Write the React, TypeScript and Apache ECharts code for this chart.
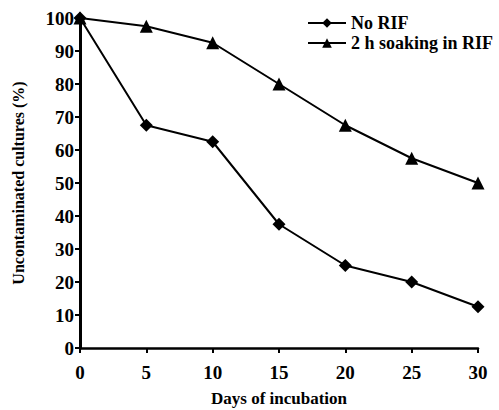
import React, { useEffect, useRef } from "react";
import * as echarts from "echarts";

const days = [0, 5, 10, 15, 20, 25, 30];
const noRif = [100, 67.5, 62.5, 37.5, 25, 20, 12.5];
const soakRif = [100, 97.5, 92.5, 80, 67.5, 57.5, 50];
const seriesNames = ["No RIF", "2 h soaking in RIF"];

const FONT = "'Liberation Serif', 'Times New Roman', Times, serif";

export default function App() {
  const ref = useRef<HTMLDivElement>(null);
  useEffect(() => {
    document.body.style.margin = "0";
    if (!ref.current) return;
    const chart = echarts.init(ref.current, undefined, { renderer: "svg" });
    chart.setOption({
      animation: false,
      backgroundColor: "#ffffff",
      grid: { left: 80, right: 21, top: 18, bottom: 62, containLabel: false, outerBoundsMode: "none" },
      legend: {
        orient: "vertical",
        left: 302,
        top: 9,
        itemWidth: 38,
        itemHeight: 12,
        itemGap: 2,
        data: seriesNames,
        textStyle: { fontFamily: FONT, fontSize: 18, color: "#000", fontWeight: "bold" },
      },
      xAxis: {
        type: "value",
        min: 0,
        max: 30,
        interval: 5,
        name: "Days of incubation",
        nameLocation: "middle",
        nameGap: 42,
        nameTextStyle: { fontFamily: FONT, fontSize: 17, color: "#000", fontWeight: "bold" },
        axisLine: { lineStyle: { color: "#000", width: 2.5 } },
        axisTick: { show: true, length: 5, lineStyle: { color: "#000", width: 2 } },
        axisLabel: { fontFamily: FONT, fontSize: 19, color: "#000", fontWeight: "bold", margin: 15 },
        splitLine: { show: false },
      },
      yAxis: {
        type: "value",
        min: 0,
        max: 100,
        interval: 10,
        name: "Uncontaminated cultures (%)",
        nameLocation: "middle",
        nameGap: 54,
        nameTextStyle: { fontFamily: FONT, fontSize: 16, color: "#000", fontWeight: "bold" },
        axisLine: { show: true, lineStyle: { color: "#000", width: 3 } },
        axisTick: { show: true, length: 5, lineStyle: { color: "#000", width: 2 } },
        axisLabel: { fontFamily: FONT, fontSize: 19, color: "#000", fontWeight: "bold", margin: 6 },
        splitLine: { show: false },
      },
      series: [
        {
          name: seriesNames[0],
          type: "line",
          data: days.map((d, i) => [d, noRif[i]]),
          symbol: "diamond",
          symbolSize: 13,
          lineStyle: { color: "#000", width: 2 },
          itemStyle: { color: "#000" },
          z: 3,
        },
        {
          name: seriesNames[1],
          type: "line",
          data: days.map((d, i) => [d, soakRif[i]]),
          symbol: "triangle",
          symbolSize: 13,
          lineStyle: { color: "#000", width: 2 },
          itemStyle: { color: "#000" },
          z: 2,
        },
      ],
    });
    return () => chart.dispose();
  }, []);
  return <div ref={ref} style={{ width: 499, height: 410 }} />;
}
